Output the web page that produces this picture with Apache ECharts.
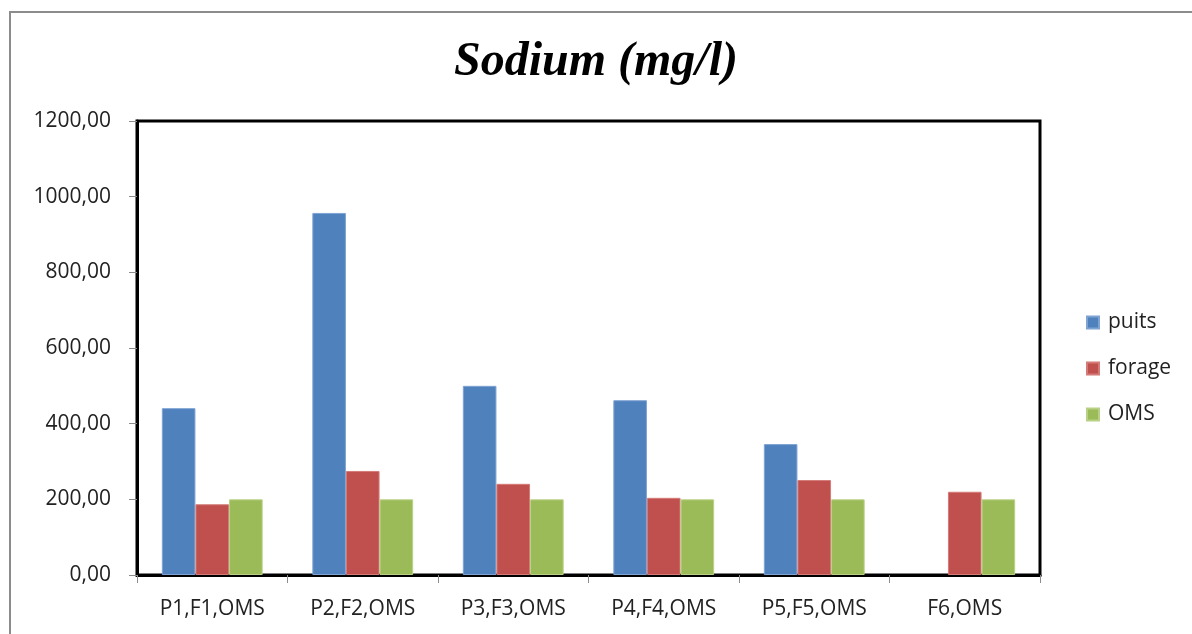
<!DOCTYPE html>
<html>
<head>
<meta charset="utf-8">
<script src="https://cdn.jsdelivr.net/npm/echarts@6/dist/echarts.min.js"></script>
<style>
  html, body { margin: 0; padding: 0; background: #fff; }
  #chart { width: 1192px; height: 634px; }
</style>
</head>
<body>
<div id="chart"></div>
<script>
// Sodium concentration per sampling site (mg/l)
const categories = ['P1,F1,OMS', 'P2,F2,OMS', 'P3,F3,OMS', 'P4,F4,OMS', 'P5,F5,OMS', 'F6,OMS'];
const puits  = [441, 957, 500, 462, 346, null];
const forage = [187, 275, 241, 204, 251, 220];
const oms    = [200, 200, 200, 200, 200, 200];
const seriesNames = ['puits', 'forage', 'OMS'];
const colors = ['#4F81BD', '#C0504D', '#9BBB59'];
const borders = ['#7FA3D3', '#D47B78', '#B9D186'];

const labelFont = '"Open Sans", "Liberation Sans", sans-serif';
const textColor = '#222';

const chart = echarts.init(document.getElementById('chart'), null, { renderer: 'canvas' });

const dataSets = [puits, forage, oms];

chart.setOption({
  animation: false,
  backgroundColor: '#ffffff',
  title: {
    text: 'Sodium (mg/l)',
    left: 'center',
    top: 34,
    textStyle: {
      fontFamily: '"Liberation Serif", "DejaVu Serif", serif',
      fontStyle: 'italic',
      fontWeight: 'bold',
      fontSize: 48,
      color: '#000'
    }
  },
  graphic: [{
    type: 'rect',
    shape: { x: 10, y: 12, width: 1300, height: 700 },
    style: { fill: 'none', stroke: '#8c8c8c', lineWidth: 2 },
    silent: true,
    z: -1
  }],
  legend: {
    orient: 'vertical',
    left: 1081,
    top: 307,
    itemGap: 25,
    itemWidth: 12,
    itemHeight: 12,
    icon: 'rect',
    textStyle: { fontFamily: labelFont, fontSize: 21, color: textColor, padding: [0, 0, 0, 4] },
    data: seriesNames
  },
  grid: {
    left: 137, right: 152, top: 121, bottom: 59,
    show: true,
    borderColor: '#000',
    borderWidth: 3,
    containLabel: false
  },
  xAxis: {
    type: 'category',
    data: categories,
    axisLine: { show: true, lineStyle: { color: '#000', width: 3 } },
    axisTick: { show: true, alignWithLabel: false, length: 8, lineStyle: { color: '#8c8c8c', width: 1 } },
    axisLabel: { fontFamily: labelFont, fontSize: 21, color: textColor, margin: 24 },
    splitLine: { show: false }
  },
  yAxis: {
    type: 'value',
    min: 0,
    max: 1200,
    interval: 200,
    axisLine: { show: true, lineStyle: { color: '#000', width: 3 } },
    axisTick: { show: true, length: 8, lineStyle: { color: '#8c8c8c', width: 1 } },
    axisLabel: {
      fontFamily: labelFont,
      fontSize: 21,
      color: textColor,
      margin: 26,
      formatter: v => v.toFixed(2).replace('.', ',')
    },
    splitLine: { show: false }
  },
  series: seriesNames.map((name, i) => ({
    name,
    type: 'bar',
    data: dataSets[i],
    barGap: '0%',
    barCategoryGap: '33%',
    itemStyle: { color: colors[i], borderColor: borders[i], borderWidth: 1 }
  }))
});
</script>
</body>
</html>
